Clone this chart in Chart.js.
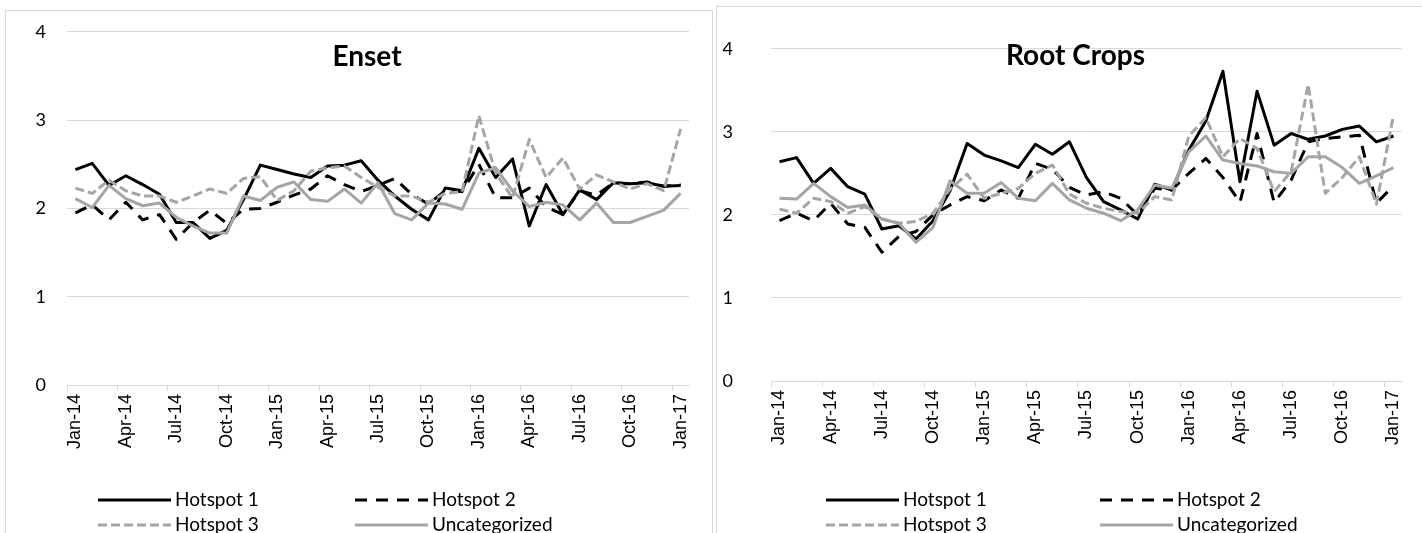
<!DOCTYPE html>
<html>
<head>
<meta charset="utf-8">
<script src="https://cdn.jsdelivr.net/npm/chart.js@4.4.1/dist/chart.umd.min.js"></script>
<style>
    html, body { margin: 0; padding: 0; background: #fff; }
    body { width: 1422px; height: 533px; position: relative; overflow: hidden; }
    .panel { position: absolute; border: 1px solid #d9d9d9; box-sizing: border-box; }
    canvas { position: absolute; top: 0; }
</style>
</head>
<body>
<div class="panel" style="left:5px;top:10px;width:708px;height:540px"></div>
<div class="panel" style="left:716px;top:6px;width:720px;height:540px"></div>
<canvas id="enset" width="711" height="533" style="left:0"></canvas>
<canvas id="roots" width="711" height="533" style="left:711px"></canvas>
<script>
const months = [
    'Jan-14', 'Feb-14', 'Mar-14', 'Apr-14', 'May-14', 'Jun-14', 'Jul-14', 'Aug-14', 'Sep-14', 'Oct-14', 'Nov-14', 'Dec-14',
    'Jan-15', 'Feb-15', 'Mar-15', 'Apr-15', 'May-15', 'Jun-15', 'Jul-15', 'Aug-15', 'Sep-15', 'Oct-15', 'Nov-15', 'Dec-15',
    'Jan-16', 'Feb-16', 'Mar-16', 'Apr-16', 'May-16', 'Jun-16', 'Jul-16', 'Aug-16', 'Sep-16', 'Oct-16', 'Nov-16', 'Dec-16',
    'Jan-17'
];
const seriesNames = ['Hotspot 1', 'Hotspot 2', 'Hotspot 3', 'Uncategorized'];
const yTicks = [0, 1, 2, 3, 4];

// Enset
const ensetHotspot1 = [2.44, 2.51, 2.26, 2.37, 2.27, 2.16, 1.84, 1.84, 1.66, 1.75, 2.1, 2.49,
    2.44, 2.39, 2.35, 2.48, 2.49, 2.54, 2.32, 2.14, 1.99, 1.87, 2.23, 2.2,
    2.68, 2.35, 2.56, 1.8, 2.27, 1.93, 2.21, 2.1, 2.29, 2.28, 2.29, 2.25, 2.26];
const ensetHotspot2 = [1.95, 2.04, 1.87, 2.07, 1.87, 1.93, 1.65, 1.84, 1.98, 1.83, 1.99, 2.0,
    2.07, 2.15, 2.22, 2.37, 2.27, 2.19, 2.26, 2.34, 2.16, 2.05, 2.2, 2.19,
    2.5, 2.12, 2.12, 2.23, 2.02, 1.93, 2.2, 2.15, 2.29, 2.28, 2.3, 2.25, 2.27];
const ensetHotspot3 = [2.23, 2.17, 2.32, 2.2, 2.14, 2.14, 2.07, 2.14, 2.22, 2.17, 2.34, 2.36,
    2.09, 2.2, 2.42, 2.46, 2.48, 2.35, 2.24, 2.14, 2.14, 2.07, 2.17, 2.19,
    3.05, 2.4, 2.12, 2.78, 2.35, 2.57, 2.22, 2.38, 2.3, 2.22, 2.28, 2.2, 2.9];
const ensetUncat = [2.11, 2.01, 2.26, 2.11, 2.03, 2.06, 1.9, 1.8, 1.72, 1.72, 2.14, 2.09,
    2.24, 2.3, 2.1, 2.08, 2.22, 2.06, 2.29, 1.94, 1.87, 2.06, 2.05, 1.99,
    2.4, 2.46, 2.2, 2.02, 2.07, 2.04, 1.87, 2.06, 1.84, 1.84, 1.91, 1.98, 2.17];

// Root Crops
const rootHotspot1 = [2.64, 2.69, 2.38, 2.56, 2.34, 2.25, 1.83, 1.87, 1.71, 1.93, 2.29, 2.86,
    2.72, 2.65, 2.57, 2.85, 2.73, 2.88, 2.45, 2.16, 2.06, 1.95, 2.37, 2.3,
    2.78, 3.13, 3.73, 2.4, 3.49, 2.84, 2.98, 2.91, 2.95, 3.03, 3.07, 2.88, 2.95];
const rootHotspot2 = [1.93, 2.02, 1.93, 2.14, 1.89, 1.85, 1.55, 1.74, 1.8, 2.0, 2.12, 2.22,
    2.17, 2.3, 2.2, 2.62, 2.55, 2.33, 2.24, 2.28, 2.2, 2.0, 2.32, 2.3,
    2.5, 2.68, 2.45, 2.15, 2.98, 2.15, 2.42, 2.88, 2.92, 2.94, 2.96, 2.14, 2.35];
const rootHotspot3 = [2.07, 2.02, 2.2, 2.16, 2.02, 2.1, 1.95, 1.9, 1.92, 2.02, 2.31, 2.49,
    2.2, 2.26, 2.32, 2.5, 2.6, 2.25, 2.14, 2.08, 2.04, 2.02, 2.22, 2.18,
    2.95, 3.17, 2.7, 2.92, 2.8, 2.28, 2.52, 3.57, 2.26, 2.45, 2.7, 2.13, 3.2];
const rootUncat = [2.2, 2.19, 2.38, 2.22, 2.09, 2.12, 1.95, 1.9, 1.67, 1.85, 2.41, 2.26,
    2.26, 2.39, 2.2, 2.17, 2.38, 2.18, 2.08, 2.02, 1.93, 2.06, 2.36, 2.32,
    2.76, 2.95, 2.66, 2.62, 2.59, 2.52, 2.5, 2.7, 2.7, 2.57, 2.38, 2.47, 2.57];

const BLACK = '#000000';
const GREY = '#a5a5a5';
const GRID = '#d9d9d9';
const styles = [
    { color: BLACK, dash: [] },
    { color: BLACK, dash: [12, 9] },
    { color: GREY, dash: [9, 4] },
    { color: GREY, dash: [] }
];

// title drawn inside the plot, like the Excel one
const panelTitle = {
    id: 'panelTitle',
    afterDraw(chart, args, opts) {
        const ctx = chart.ctx;
        const a = chart.chartArea;
        ctx.save();
        ctx.font = 'bold 28px Lato';
        ctx.fillStyle = '#000';
        ctx.textAlign = 'center';
        ctx.textBaseline = 'alphabetic';
        ctx.fillText(opts.text, (a.left + a.right) / 2 + opts.dx, opts.y);
        ctx.restore();
    }
};

// 2x2 legend under the axis
const panelLegend = {
    id: 'panelLegend',
    afterDraw(chart, args, opts) {
        const ctx = chart.ctx;
        chart.data.datasets.forEach((ds, i) => {
            const x = opts.cols[i % 2];
            const y = opts.rows[Math.floor(i / 2)];
            ctx.save();
            ctx.strokeStyle = ds.borderColor;
            ctx.lineWidth = ds.borderWidth;
            ctx.setLineDash(ds.borderDash);
            ctx.beginPath();
            ctx.moveTo(x, y);
            ctx.lineTo(x + opts.len, y);
            ctx.stroke();
            ctx.setLineDash([]);
            ctx.font = '19px Lato';
            ctx.fillStyle = '#000';
            ctx.textBaseline = 'middle';
            ctx.fillText(ds.label, x + opts.len + 4, y);
            ctx.restore();
        });
    }
};

function makeChart(canvasId, title, series, lay) {
    const ctx = document.getElementById(canvasId).getContext('2d');
    const datasets = series.map((values, i) => ({
        label: seriesNames[i],
        data: values,
        borderColor: styles[i].color,
        backgroundColor: styles[i].color,
        borderDash: styles[i].dash,
        borderWidth: 3,
        borderJoinStyle: 'round',
        pointRadius: 0,
        tension: 0,
        fill: false,
        order: series.length - 1 - i
    }));
    return new Chart(ctx, {
        type: 'line',
        data: { labels: months, datasets: datasets },
        options: {
            responsive: false,
            animation: false,
            layout: { padding: { left: 0, right: lay.padRight, top: lay.top, bottom: 0 } },
            plugins: {
                legend: { display: false },
                tooltip: { enabled: false },
                panelTitle: { text: title, dx: lay.titleDx, y: lay.titleY },
                panelLegend: { cols: lay.legendCols, rows: [500, 525], len: 73 }
            },
            scales: {
                x: {
                    offset: true,
                    grid: {
                        offset: true,
                        drawOnChartArea: false,
                        drawTicks: true,
                        tickLength: 6,
                        color: c => (c.index % 3 === 0 ? GRID : 'rgba(0,0,0,0)')
                    },
                    border: { color: GRID },
                    ticks: {
                        autoSkip: false,
                        maxRotation: 90,
                        minRotation: 90,
                        padding: 3,
                        color: '#000',
                        font: { family: 'Liberation Sans', size: 18 },
                        callback: (v, i) => (i % 3 === 0 ? months[i] : '')
                    },
                    afterFit: s => { s.height = lay.xHeight; }
                },
                y: {
                    min: yTicks[0],
                    max: yTicks[yTicks.length - 1],
                    ticks: {
                        stepSize: 1,
                        padding: lay.yPad,
                        color: '#000',
                        font: { family: 'Lato', size: 18 }
                    },
                    grid: { color: GRID, drawTicks: false },
                    border: { display: false },
                    afterFit: s => { s.width = lay.yWidth; }
                }
            }
        },
        plugins: [panelTitle, panelLegend]
    });
}

makeChart('enset', 'Enset', [ensetHotspot1, ensetHotspot2, ensetHotspot3, ensetUncat], {
    padRight: 22, top: 30, xHeight: 148, yWidth: 67, yPad: 21,
    titleDx: -11, titleY: 66, legendCols: [98, 355]
});
makeChart('roots', 'Root Crops', [rootHotspot1, rootHotspot2, rootHotspot3, rootUncat], {
    padRight: 20, top: 36, xHeight: 152, yWidth: 60, yPad: 38,
    titleDx: -11, titleY: 65, legendCols: [115, 389]
});
</script>
</body>
</html>
